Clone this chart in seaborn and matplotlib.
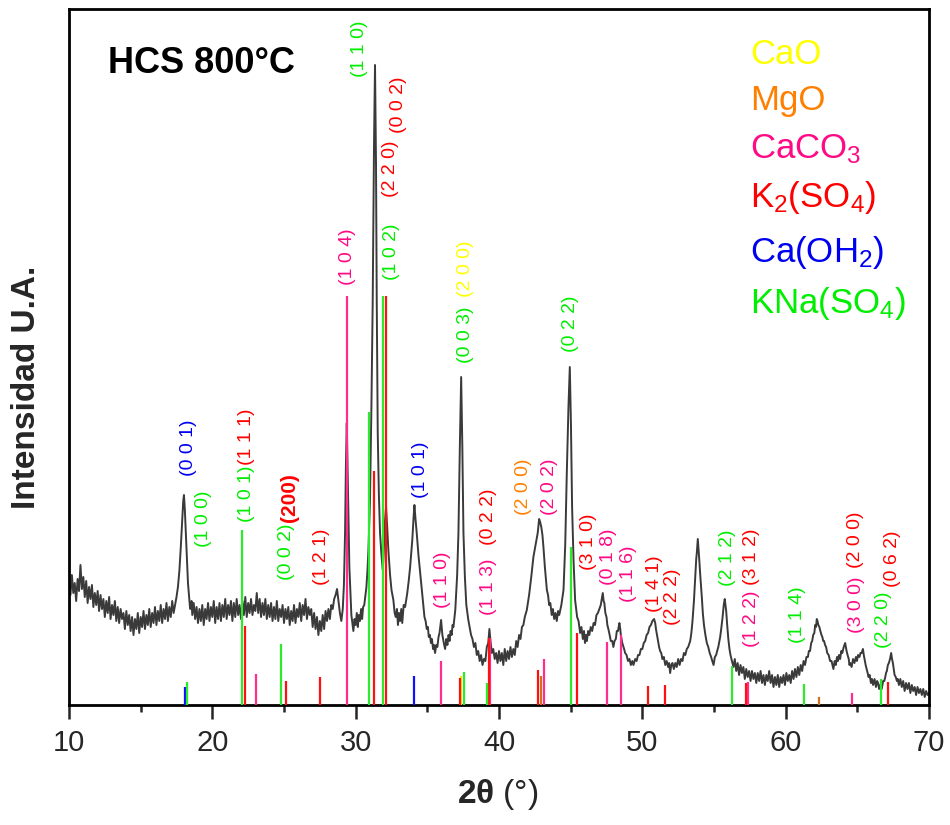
import matplotlib
matplotlib.use("Agg")
import matplotlib.pyplot as plt
from matplotlib import font_manager
import seaborn as sns
import pandas as pd

# ---------------------------------------------------------------------------
# Diffractogram of HCS calcined at 800 °C (intensity in arbitrary units)
# ---------------------------------------------------------------------------
PATTERN = [
    # 10 - 18.6°: noisy background and the Ca(OH)2 (001) reflection
    (10.0, 124), (10.1, 110), (10.2, 130), (10.3, 112), (10.4, 122), (10.5, 104),
    (10.6, 126), (10.7, 114), (10.8, 140), (10.9, 116), (11.0, 128), (11.1, 108),
    (11.2, 124), (11.3, 102), (11.4, 118), (11.5, 106), (11.6, 120), (11.7, 98),
    (11.8, 112), (11.9, 100), (12.0, 114), (12.1, 94), (12.2, 110), (12.3, 96),
    (12.4, 106), (12.5, 88), (12.6, 104), (12.7, 92), (12.8, 108), (12.9, 86),
    (13.0, 100), (13.1, 90), (13.2, 104), (13.3, 84), (13.4, 98), (13.5, 82),
    (13.6, 96), (13.7, 86), (13.8, 92), (13.9, 76), (14.0, 94), (14.1, 80),
    (14.2, 90), (14.3, 74), (14.4, 88), (14.5, 70), (14.6, 86), (14.7, 76),
    (14.8, 92), (14.9, 72), (15.0, 88), (15.1, 78), (15.2, 94), (15.3, 76),
    (15.4, 90), (15.5, 80), (15.6, 96), (15.7, 78), (15.8, 92), (15.9, 82),
    (16.0, 98), (16.1, 80), (16.2, 94), (16.3, 84), (16.4, 100), (16.5, 82),
    (16.6, 96), (16.7, 86), (16.8, 102), (16.9, 84), (17.0, 98), (17.1, 88),
    (17.2, 104), (17.3, 92), (17.4, 100), (17.5, 108), (17.6, 118), (17.7, 134),
    (17.8, 158), (17.9, 186), (17.97, 204), (18.02, 210), (18.08, 196), (18.15, 172),
    (18.22, 148), (18.3, 122), (18.38, 108), (18.45, 96), (18.55, 104),
    # 18.6 - 29.2°
    (18.6, 90), (18.7, 102), (18.8, 86), (18.9, 98), (19.0, 82), (19.1, 96),
    (19.2, 84), (19.3, 100), (19.4, 80), (19.5, 96), (19.6, 86), (19.7, 102),
    (19.8, 84), (19.9, 98), (20.0, 88), (20.1, 104), (20.2, 82), (20.3, 98),
    (20.4, 86), (20.5, 102), (20.6, 84), (20.7, 100), (20.8, 88), (20.9, 106),
    (21.0, 86), (21.1, 100), (21.2, 90), (21.3, 104), (21.4, 84), (21.5, 102),
    (21.6, 88), (21.7, 106), (21.8, 90), (21.9, 100), (22.0, 86), (22.1, 104),
    (22.2, 90), (22.3, 108), (22.4, 88), (22.5, 102), (22.6, 92), (22.7, 106),
    (22.8, 90), (22.9, 100), (23.0, 94), (23.1, 112), (23.2, 92), (23.3, 106),
    (23.4, 88), (23.5, 102), (23.6, 90), (23.7, 106), (23.8, 86), (23.9, 100),
    (24.0, 88), (24.1, 102), (24.2, 84), (24.3, 98), (24.4, 86), (24.5, 104),
    (24.6, 84), (24.7, 96), (24.8, 88), (24.9, 100), (25.0, 82), (25.1, 96),
    (25.2, 86), (25.3, 98), (25.4, 80), (25.5, 94), (25.6, 84), (25.7, 100),
    (25.8, 82), (25.9, 96), (26.0, 88), (26.1, 102), (26.2, 84), (26.3, 100),
    (26.4, 90), (26.5, 106), (26.6, 86), (26.7, 98), (26.8, 90), (26.9, 96),
    (27.0, 78), (27.1, 92), (27.2, 76), (27.3, 88), (27.4, 70), (27.5, 84),
    (27.6, 74), (27.7, 90), (27.8, 76), (27.9, 94), (28.0, 84), (28.1, 96),
    (28.2, 86), (28.3, 100), (28.4, 96), (28.5, 106), (28.6, 110), (28.7, 116),
    (28.8, 104), (28.9, 92), (29.0, 84), (29.1, 96), (29.18, 120),
    # 29.2 - 38°: calcite (104), the main sulphate group, (101) and (003)
    (29.26, 172), (29.32, 240), (29.38, 282), (29.48, 200), (29.56, 138), (29.7, 90),
    (29.84, 74), (29.92, 86), (30.0, 80), (30.08, 92), (30.15, 78), (30.22, 90),
    (30.3, 84), (30.38, 96), (30.45, 86), (30.52, 98), (30.6, 100), (30.68, 110),
    (30.75, 118), (30.82, 134), (30.89, 155), (31.0, 205), (31.1, 300), (31.19, 405),
    (31.28, 560), (31.35, 640), (31.42, 540), (31.47, 405), (31.54, 272), (31.62, 210),
    (31.7, 172), (31.8, 150), (31.89, 135), (31.95, 150), (32.05, 185), (32.12, 198),
    (32.2, 178), (32.28, 155), (32.4, 130), (32.5, 115), (32.63, 105), (32.72, 92),
    (32.8, 88), (32.88, 96), (32.95, 80), (33.02, 92), (33.1, 84), (33.18, 96),
    (33.25, 82), (33.35, 100), (33.45, 98), (33.6, 112), (33.7, 124), (33.8, 138),
    (33.95, 165), (34.05, 190), (34.1, 200), (34.18, 185), (34.26, 172), (34.38, 150),
    (34.5, 132), (34.65, 110), (34.8, 88), (34.88, 84), (34.96, 76), (35.04, 78),
    (35.1, 68), (35.18, 70), (35.25, 62), (35.32, 66), (35.4, 56), (35.47, 60),
    (35.54, 52), (35.62, 60), (35.7, 58), (35.78, 68), (35.85, 72), (35.96, 85),
    (36.05, 70), (36.15, 62), (36.24, 56), (36.32, 66), (36.4, 60), (36.48, 70),
    (36.55, 64), (36.62, 74), (36.7, 70), (36.76, 80), (36.82, 78), (36.95, 95),
    (37.08, 130), (37.17, 172), (37.27, 260), (37.36, 328), (37.44, 260), (37.52, 172),
    (37.62, 128), (37.72, 100), (37.86, 85),
    # 38 - 42°
    (37.95, 78), (38.05, 70), (38.15, 66), (38.25, 58), (38.35, 62), (38.45, 50),
    (38.55, 54), (38.65, 44), (38.75, 50), (38.85, 40), (38.95, 46), (39.05, 44),
    (39.15, 58), (39.25, 62), (39.33, 76), (39.42, 62), (39.5, 52), (39.6, 56),
    (39.7, 46), (39.8, 52), (39.9, 42), (40.0, 54), (40.1, 44), (40.2, 52),
    (40.3, 40), (40.4, 56), (40.5, 44), (40.6, 54), (40.7, 46), (40.8, 58),
    (40.9, 48), (41.0, 56), (41.1, 50), (41.2, 64), (41.3, 58), (41.4, 70),
    (41.5, 66), (41.6, 78), (41.7, 80), (41.8, 88), (41.94, 95),
    # 42 - 56.4°
    (42.1, 110), (42.25, 128), (42.4, 148), (42.55, 160), (42.7, 172), (42.8, 186),
    (42.87, 183), (42.95, 178), (43.03, 170), (43.1, 158), (43.2, 138), (43.34, 115),
    (43.42, 110), (43.5, 100), (43.58, 102), (43.68, 90), (43.76, 96), (43.85, 86),
    (43.94, 92), (44.03, 84), (44.12, 94), (44.2, 90), (44.35, 100), (44.5, 115),
    (44.62, 160), (44.73, 232), (44.85, 300), (44.94, 338), (45.02, 280), (45.1, 198),
    (45.2, 145), (45.31, 105), (45.45, 88), (45.55, 84), (45.66, 72), (45.75, 78),
    (45.85, 66), (45.93, 74), (46.0, 62), (46.07, 70), (46.13, 64), (46.22, 74),
    (46.3, 70), (46.4, 78), (46.5, 74), (46.6, 82), (46.7, 80), (46.8, 90),
    (46.9, 92), (47.0, 96), (47.1, 100), (47.17, 106), (47.24, 112), (47.3, 104),
    (47.35, 102), (47.42, 92), (47.5, 88), (47.56, 80), (47.63, 76), (47.72, 70),
    (47.8, 64), (47.9, 64), (47.98, 58), (48.06, 64), (48.15, 66), (48.22, 74),
    (48.3, 74), (48.4, 82), (48.46, 76), (48.5, 70), (48.6, 62), (48.73, 56),
    (48.8, 52), (48.9, 50), (49.0, 44), (49.1, 46), (49.2, 40), (49.3, 44),
    (49.38, 40), (49.5, 46), (49.6, 44), (49.7, 50), (49.8, 50), (49.9, 56),
    (50.0, 56), (50.1, 62), (50.2, 64), (50.3, 70), (50.4, 72), (50.5, 78),
    (50.6, 80), (50.7, 84), (50.82, 86), (50.9, 82), (50.95, 76), (51.05, 68),
    (51.1, 64), (51.17, 58), (51.24, 54), (51.32, 52), (51.4, 46), (51.5, 48),
    (51.6, 40), (51.7, 44), (51.8, 38), (51.87, 42), (51.94, 32), (52.02, 40),
    (52.1, 42), (52.2, 36), (52.3, 42), (52.4, 38), (52.5, 46), (52.6, 40),
    (52.7, 46), (52.8, 44), (52.9, 52), (53.0, 50), (53.1, 56), (53.2, 58),
    (53.34, 64), (53.42, 72), (53.5, 84), (53.6, 104), (53.68, 125), (53.76, 146),
    (53.8, 152), (53.87, 166), (53.95, 150), (54.05, 128), (54.15, 108), (54.22, 92),
    (54.3, 80), (54.4, 70), (54.5, 62), (54.6, 58), (54.7, 52), (54.8, 48),
    (54.88, 44), (54.97, 40), (55.06, 48), (55.15, 50), (55.22, 54), (55.3, 58),
    (55.38, 64), (55.43, 68), (55.52, 78), (55.6, 88), (55.68, 100), (55.75, 106),
    (55.8, 100), (55.85, 94), (55.92, 80), (56.0, 66), (56.08, 56), (56.15, 50),
    (56.25, 44),
    # 56.4 - 70°: weak reflections on a flat background
    (56.36, 38), (56.45, 46), (56.55, 34), (56.65, 42), (56.75, 30), (56.85, 40),
    (56.95, 32), (57.05, 38), (57.15, 26), (57.25, 36), (57.35, 28), (57.45, 34),
    (57.55, 24), (57.65, 34), (57.75, 26), (57.85, 32), (57.95, 22), (58.05, 32),
    (58.15, 24), (58.25, 34), (58.35, 22), (58.45, 30), (58.55, 20), (58.65, 30),
    (58.75, 24), (58.85, 34), (58.95, 22), (59.05, 30), (59.15, 18), (59.25, 28),
    (59.35, 20), (59.45, 30), (59.55, 18), (59.65, 28), (59.75, 22), (59.85, 30),
    (59.95, 20), (60.05, 32), (60.15, 24), (60.25, 30), (60.35, 22), (60.45, 34),
    (60.55, 26), (60.65, 36), (60.75, 28), (60.85, 38), (60.95, 30), (61.05, 40),
    (61.15, 34), (61.25, 44), (61.35, 40), (61.45, 48), (61.55, 48), (61.62, 54),
    (61.7, 54), (61.78, 62), (61.85, 64), (61.92, 70), (62.0, 72), (62.06, 80),
    (62.12, 78), (62.17, 86), (62.22, 84), (62.28, 80), (62.35, 78), (62.42, 74),
    (62.5, 70), (62.56, 68), (62.62, 64), (62.68, 64), (62.75, 60), (62.82, 58),
    (62.9, 52), (63.0, 50), (63.1, 44), (63.2, 44), (63.33, 36), (63.42, 44),
    (63.5, 40), (63.58, 48), (63.65, 44), (63.72, 50), (63.8, 46), (63.88, 54),
    (63.95, 52), (64.05, 58), (64.15, 62), (64.2, 58), (64.25, 54), (64.32, 50),
    (64.4, 46), (64.45, 40), (64.5, 42), (64.6, 38), (64.7, 46), (64.8, 42),
    (64.9, 48), (64.97, 44), (65.05, 50), (65.15, 48), (65.22, 52), (65.3, 52),
    (65.39, 56), (65.45, 50), (65.5, 46), (65.58, 40), (65.65, 36), (65.72, 32),
    (65.78, 28), (65.86, 30), (65.95, 22), (66.02, 26), (66.1, 20), (66.2, 26),
    (66.3, 18), (66.38, 24), (66.45, 22), (66.52, 16), (66.6, 20), (66.7, 16),
    (66.8, 24), (66.88, 24), (66.95, 28), (67.0, 32), (67.06, 34), (67.13, 40),
    (67.2, 42), (67.28, 46), (67.36, 52), (67.42, 46), (67.48, 42), (67.54, 36),
    (67.6, 30), (67.68, 28), (67.76, 24), (67.82, 26), (67.9, 20), (68.0, 26),
    (68.1, 18), (68.2, 24), (68.3, 14), (68.4, 22), (68.5, 16), (68.6, 22),
    (68.7, 12), (68.8, 20), (68.9, 14), (69.0, 18), (69.1, 10), (69.2, 18),
    (69.3, 12), (69.4, 16), (69.5, 10), (69.6, 16), (69.7, 8), (69.8, 14),
    (69.9, 10), (70.0, 12),
]

# Reference reflections of each phase: (2θ, relative height)
CAO_PEAKS = [(37.33, 29)]
MGO_PEAKS = [(42.91, 29), (62.34, 8)]
CACO3_PEAKS = [(23.05, 31), (29.40, 409), (35.98, 44), (39.38, 67), (43.15, 46),
               (47.54, 63), (48.52, 70), (57.40, 23), (64.66, 12)]
K2SO4_PEAKS = [(22.26, 79), (25.14, 24), (27.49, 28), (31.31, 234), (32.12, 409),
               (37.26, 27), (39.29, 67), (42.75, 35), (45.43, 72), (50.38, 19),
               (51.59, 20), (57.24, 22), (67.17, 23)]
CAOH2_PEAKS = [(18.09, 18), (34.10, 29)]
KNASO4_PEAKS = [(18.25, 23), (22.07, 175), (24.79, 61), (30.96, 293), (31.89, 409),
                (37.54, 33), (39.15, 22), (45.03, 158), (56.27, 39), (61.31, 21),
                (66.66, 26)]

PHASES = ["CaO", "MgO", "CaCO3", "K2SO4", "CaOH2", "KNaSO4"]
PHASE_NAMES = ["CaO", "MgO", "CaCO$_3$", "K$_2$(SO$_4$)", "Ca(OH$_2$)", "KNa(SO$_4$)"]
PHASE_PEAKS = [CAO_PEAKS, MGO_PEAKS, CACO3_PEAKS, K2SO4_PEAKS, CAOH2_PEAKS, KNASO4_PEAKS]

# Miller indices: (text, phase, 2θ, height where the label starts, bold)
HKL_LABELS = [
    ("(0 0 1)", "CaOH2", 18.32, 229, False),
    ("(1 0 0)", "KNaSO4", 19.37, 158, False),
    ("(1 0 1)", "KNaSO4", 22.35, 183, False),
    ("(1 1 1)", "K2SO4", 22.35, 240, False),
    ("(0 0 2)", "KNaSO4", 25.19, 125, False),
    ("(200)", "K2SO4", 25.38, 183, True),
    ("(1 2 1)", "K2SO4", 27.65, 120, False),
    ("(1 0 4)", "CaCO3", 29.44, 420, False),
    ("(1 1 0)", "KNaSO4", 30.25, 628, False),
    ("(1 0 2)", "KNaSO4", 32.47, 425, False),
    ("(2 2 0)", "K2SO4", 32.40, 508, False),
    ("(0 0 2)", "K2SO4", 32.97, 572, False),
    ("(1 0 1)", "CaOH2", 34.49, 207, False),
    ("(1 1 0)", "CaCO3", 36.05, 97, False),
    ("(0 0 3)", "KNaSO4", 37.68, 342, False),
    ("(2 0 0)", "CaO", 37.68, 408, False),
    ("(1 1 3)", "CaCO3", 39.30, 90, False),
    ("(0 2 2)", "K2SO4", 39.30, 160, False),
    ("(2 0 0)", "MgO", 41.70, 190, False),
    ("(2 0 2)", "CaCO3", 43.49, 190, False),
    ("(0 2 2)", "KNaSO4", 45.00, 353, False),
    ("(3 1 0)", "K2SO4", 46.23, 135, False),
    ("(0 1 8)", "CaCO3", 47.67, 120, False),
    ("(1 1 6)", "CaCO3", 49.02, 103, False),
    ("(1 4 1)", "K2SO4", 50.84, 93, False),
    ("(2 2 2)", "K2SO4", 52.12, 80, False),
    ("(2 1 2)", "KNaSO4", 55.93, 119, False),
    ("(3 1 2)", "K2SO4", 57.63, 120, False),
    ("(1 2 2)", "CaCO3", 57.63, 58, False),
    ("(1 1 4)", "KNaSO4", 60.81, 62, False),
    ("(2 0 0)", "K2SO4", 64.84, 137, False),
    ("(3 0 0)", "CaCO3", 64.91, 72, False),
    ("(2 2 0)", "KNaSO4", 66.81, 57, False),
    ("(0 6 2)", "K2SO4", 67.47, 118, False),
]

# ---------------------------------------------------------------------------
TEXT_COLORS = {"CaO": "#FFFF00", "MgO": "#FF8000", "CaCO3": "#FF0A84",
               "K2SO4": "#FF0000", "CaOH2": "#0000F0", "KNaSO4": "#00EE00"}
STICK_COLORS = {"CaO": "#F2E600", "MgO": "#D0731C", "CaCO3": "#FF2E8E",
                "K2SO4": "#FF1010", "CaOH2": "#1010FF", "KNaSO4": "#2CEB2C"}

sns.set_style("ticks")
available = {f.name for f in font_manager.fontManager.ttflist}
NARROW = "Liberation Sans Narrow" if "Liberation Sans Narrow" in available else "Liberation Sans"
plt.rcParams["font.family"] = ["Liberation Sans", "DejaVu Sans"]
plt.rcParams["mathtext.fontset"] = "custom"
plt.rcParams["mathtext.rm"] = "Liberation Sans"
plt.rcParams["mathtext.it"] = "Liberation Sans"
plt.rcParams["mathtext.bf"] = NARROW + ":bold"

fig = plt.figure(figsize=(9.5, 8.25), dpi=100)
ax = fig.add_axes([69 / 950, 1 - 705 / 825, 860 / 950, 696 / 825])

# reference sticks
for phase, peaks in zip(PHASES, PHASE_PEAKS):
    pos = [p for p, _ in peaks]
    hgt = [h for _, h in peaks]
    ax.vlines(pos, 0, hgt, color=STICK_COLORS[phase], lw=1.6, zorder=3)

# measured pattern
df = pd.DataFrame(PATTERN, columns=["two_theta", "intensity"])
sns.lineplot(data=df, x="two_theta", y="intensity", ax=ax, color="#3a3a3a",
             lw=1.4, estimator=None, sort=False, zorder=2)

# Miller index annotations
for text, phase, x, y, bold in HKL_LABELS:
    ax.text(x, y, text, rotation=90, ha="center", va="bottom",
            color=TEXT_COLORS[phase], fontsize=15 if bold else 14,
            fontweight="bold" if bold else "normal", zorder=4)

# phase key
key_baselines = [64, 110, 158, 207, 262, 313]
for phase, name, yb in zip(PHASES, PHASE_NAMES, key_baselines):
    ax.text((750 - 69) / 860, (705 - yb) / 696, name, transform=ax.transAxes,
            ha="left", va="baseline", fontsize=25, color=TEXT_COLORS[phase])

ax.text((108 - 69) / 860, (705 - 73) / 696, "HCS 800°C", transform=ax.transAxes,
        ha="left", va="baseline", fontsize=26, fontweight="bold", color="black")

ax.set_xlim(10, 70)
ax.set_ylim(0, 696)
ax.set_xticks(range(10, 71, 10))
ax.set_xticks(range(15, 70, 10), minor=True)
ax.set_yticks([])
ax.tick_params(axis="x", which="major", direction="out", length=10, width=1.8,
               pad=7, labelsize=21)
ax.tick_params(axis="x", which="minor", direction="out", length=5, width=1.8)
for lbl in ax.get_xticklabels():
    lbl.set_family(NARROW)
for side in ["left", "right", "top", "bottom"]:
    ax.spines[side].set_visible(True)
    ax.spines[side].set_linewidth(2.0)
    ax.spines[side].set_color("black")

ax.set_xlabel("")
ax.set_ylabel("")
fig.text(498 / 950, 1 - 795 / 825, r"$\mathbf{2θ}$ (°)", ha="center", va="center",
         fontsize=24, family=NARROW)
fig.text(27 / 950, 1 - 387 / 825, "Intensidad U.A.", rotation=90, ha="center",
         va="center", fontsize=24, fontweight="bold")

fig.savefig("out.png", dpi=100)
